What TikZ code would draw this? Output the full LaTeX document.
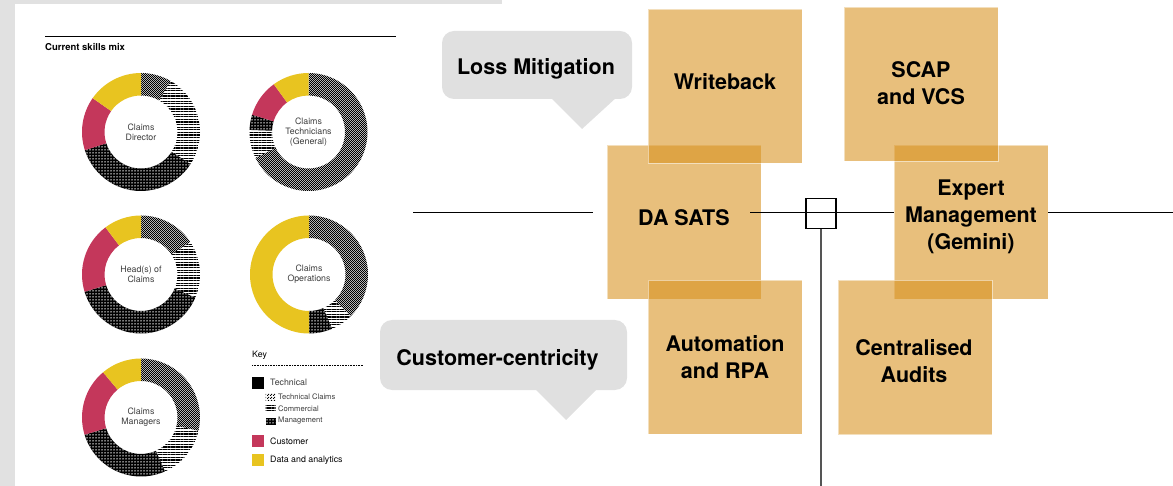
\documentclass[tikz,border=0pt]{standalone}
\usepackage{fontspec}
\setsansfont{TeX Gyre Heros}
\usetikzlibrary{patterns,patterns.meta,calc}

\definecolor{panelgray}{HTML}{E1E1E1}
\definecolor{bubblegray}{HTML}{E0E0E0}
\definecolor{custred}{HTML}{C4375B}
\definecolor{datayellow}{HTML}{E8C420}
\definecolor{boxorange}{HTML}{D7911D}
\definecolor{labelgray}{HTML}{3C3C3C}
\definecolor{linegray}{HTML}{555555}

% fine checker for the technical claims slices
\pgfdeclarepatternformonly{finechecker}{\pgfpointorigin}{\pgfqpoint{2.4pt}{2.4pt}}{\pgfqpoint{2.4pt}{2.4pt}}{%
  \pgfpathrectangle{\pgfpointorigin}{\pgfqpoint{1.25pt}{1.25pt}}%
  \pgfpathrectangle{\pgfqpoint{1.2pt}{1.2pt}}{\pgfqpoint{1.25pt}{1.25pt}}%
  \pgfusepath{fill}}

% one slice of a skills ring: centre, from angle, to angle, style
\newcommand{\ringpart}[4]{%
  \begin{scope}[shift={#1},yscale=-1]
    \path[#4] (#2:59) arc[start angle=#2,end angle=#3,radius=59]
      -- (#3:36.5) arc[start angle=#3,end angle=#2,radius=36.5] -- cycle;
  \end{scope}}

\begin{document}
\begin{tikzpicture}[
  x=1pt,
  y=-1pt,
  font=\sffamily,
  ideabox/.style={fill=boxorange,fill opacity=.58,draw=white,draw opacity=.5,
    line width=.8pt,minimum width=154,minimum height=154,inner sep=0pt},
  boxtext/.style={align=center,inner sep=0pt,font=\sffamily\bfseries\fontsize{21.5}{27}\selectfont},
  bubble/.style={fill=bubblegray,rounded corners=12pt,inner sep=0pt},
  ringlabel/.style={align=center,text=labelgray,font=\sffamily\fontsize{8.8}{10}\selectfont},
  techc/.style={pattern=finechecker},
  comm/.style={pattern={Lines[distance=2.6pt,line width=1.3pt]}},
  mgmt/.style={fill=black,postaction={pattern={Dots[radius=.75pt,distance=3pt]},pattern color=white}},
  custseg/.style={fill=custred},
  dataseg/.style={fill=datayellow},
  keybox/.style={minimum size=12,inner sep=0pt},
  keyicon/.style={minimum width=10,minimum height=7,inner sep=0pt},
  keytext/.style={anchor=west,inner sep=0pt,font=\sffamily\fontsize{8.8}{10}\selectfont},
  subtext/.style={anchor=west,inner sep=0pt,text=labelgray,font=\sffamily\fontsize{7.6}{9}\selectfont},
  axis/.style={draw=black,line width=1pt}
]
\useasboundingbox (0,0) rectangle (1173,486);

% left page with the skills mix
\fill[panelgray] (0,0) rectangle (502,486);
\fill[white] (15,4) rectangle (502,486);
\draw[line width=1pt] (45,37) -- (396,37);
\node[anchor=west,inner sep=0pt,font=\sffamily\bfseries\fontsize{9.5}{11}\selectfont]
  (title) at (45,47) {Current skills mix};

\ringpart{(141,132)}{90}{60}{techc}
\ringpart{(141,132)}{60}{-33}{comm}
\ringpart{(141,132)}{-33}{-162}{mgmt}
\ringpart{(141,132)}{-162}{-215}{custseg}
\ringpart{(141,132)}{-215}{-270}{dataseg}
\node[ringlabel] (director) at (141,132) {Claims\\Director};

\ringpart{(308.5,132)}{90}{-154}{techc}
\ringpart{(308.5,132)}{-154}{-182}{comm}
\ringpart{(308.5,132)}{-182}{-197}{mgmt}
\ringpart{(308.5,132)}{-197}{-234}{custseg}
\ringpart{(308.5,132)}{-234}{-270}{dataseg}
\node[ringlabel] (technicians) at (308.5,132) {Claims\\Technicians\\(General)};

\ringpart{(141,274.5)}{90}{33.5}{techc}
\ringpart{(141,274.5)}{33.5}{-23}{comm}
\ringpart{(141,274.5)}{-23}{-163}{mgmt}
\ringpart{(141,274.5)}{-163}{-233}{custseg}
\ringpart{(141,274.5)}{-233}{-270}{dataseg}
\node[ringlabel] (heads) at (141,274.5) {Head(s) of\\Claims};

\ringpart{(309,274.5)}{90}{-45}{techc}
\ringpart{(309,274.5)}{-45}{-67}{comm}
\ringpart{(309,274.5)}{-67}{-90}{mgmt}
\ringpart{(309,274.5)}{-90}{-270}{dataseg}
\node[ringlabel] (operations) at (309,274.5) {Claims\\Operations};

\ringpart{(141,417.5)}{90}{-13}{techc}
\ringpart{(141,417.5)}{-13}{-66}{comm}
\ringpart{(141,417.5)}{-66}{-163}{mgmt}
\ringpart{(141,417.5)}{-163}{-230}{custseg}
\ringpart{(141,417.5)}{-230}{-270}{dataseg}
\node[ringlabel] (managers) at (141,417.5) {Claims\\Managers};

% key
\node[keytext] (key) at (252,355) {Key};
\draw[line width=.6pt,dash pattern=on .8pt off .8pt] (252,365) -- (363,365);
\node[keybox,fill=black] (ktech) at (258,383) {};
\node[keytext,text=labelgray] (ktechtxt) at (270,382) {Technical};
\node[keyicon,techc] (kclaims) at (270.5,397) {};
\node[subtext] (kclaimstxt) at (278,397) {Technical Claims};
\node[keyicon,comm] (kcomm) at (270.5,409) {};
\node[subtext] (kcommtxt) at (278,409) {Commercial};
\node[keyicon,mgmt] (kmgmt) at (270.5,421) {};
\node[subtext] (kmgmttxt) at (278,421) {Management};
\node[keybox,fill=custred] (kcust) at (258,441) {};
\node[keytext] (kcusttxt) at (270,441) {Customer};
\node[keybox,fill=datayellow] (kdata) at (258,460) {};
\node[keytext] (kdatatxt) at (270,460) {Data and analytics};

% speech bubbles
\node[bubble,minimum width=190,minimum height=68] (loss) at (537,65) {};
\fill[bubblegray] (550,97) -- (582,129) -- (617,97) -- cycle;
\node[boxtext] (losstxt) at (536,69) {Loss Mitigation};
\node[bubble,minimum width=247,minimum height=70] (custc) at (503.5,355) {};
\fill[bubblegray] (534,388) -- (566,420) -- (598,388) -- cycle;
\node[boxtext] (custctxt) at (497.5,360) {Customer-centricity};

% initiative boxes
\node[ideabox] (dasats) at (684,222.5) {};
\node[ideabox] (expert) at (971,222.5) {};
\node[ideabox] (writeback) at (725,86) {};
\node[ideabox] (scap) at (921,84.5) {};
\node[ideabox] (automation) at (725,357) {};
\node[ideabox] (audits) at (915,357.5) {};
\node[boxtext] (dasatstxt) at (684,217.5) {DA SATS};
\node[boxtext] (experttxt) at (971,216.5) {Expert\\Management\\(Gemini)};
\node[boxtext] (writebacktxt) at (725,82) {Writeback};
\node[boxtext] (scaptxt) at (921,83) {SCAP\\and VCS};
\node[boxtext] (automationtxt) at (725,357) {Automation\\and RPA};
\node[boxtext] (auditstxt) at (914,361.5) {Centralised\\Audits};

% axes
\coordinate (axisL) at (413,213);
\coordinate (axisLend) at (593,213);
\coordinate (axisM) at (750,213);
\coordinate (axisR) at (1173,213);
\coordinate (axisB) at (821,486);
\node[draw=black,line width=1.1pt,minimum size=30,inner sep=0pt] (hub) at (821,213.5) {};
\draw[axis] (axisL) -- (axisLend);
\draw[axis] (axisM) -- (expert.west |- axisM);
\draw[axis] (expert.east |- axisM) -- (axisR);
\draw[draw=linegray,line width=1.5pt] (hub.south) -- (axisB);
\end{tikzpicture}
\end{document}
